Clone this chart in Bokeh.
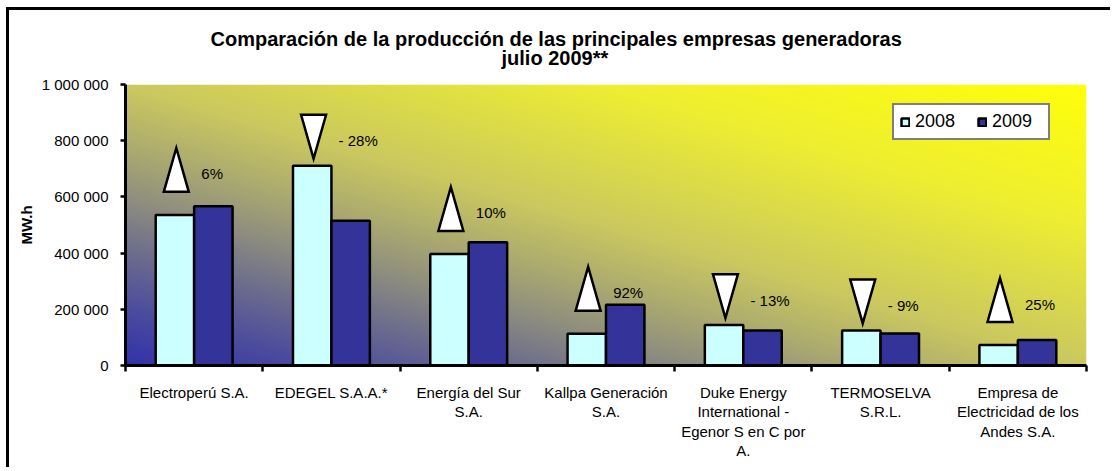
import numpy as np
from bokeh.plotting import figure
from bokeh.models import (Range1d, FixedTicker, Legend, LegendItem, Title,
                          ColumnDataSource)
from bokeh.transform import dodge
from bokeh.core.properties import value
from bokeh.embed import file_html
from bokeh.resources import INLINE

# ---------------- data ----------------
companies = [
    "Electroperú S.A.",
    "EDEGEL S.A.A.*",
    "Energía del Sur\nS.A.",
    "Kallpa Generación\nS.A.",
    "Duke Energy\nInternational -\nEgenor S en C por\nA.",
    "TERMOSELVA\nS.R.L.",
    "Empresa de\nElectricidad de los\nAndes S.A.",
]
prod_2008 = [536000, 711000, 397000, 113000, 144000, 125000, 73000]
prod_2009 = [567000, 515000, 439000, 216000, 125000, 114000, 91000]
change_pct = [6, -28, 10, 92, -13, -9, 25]
series_names = ["2008", "2009"]
y_ticks = [0, 200000, 400000, 600000, 800000, 1000000]
title_line1 = "Comparación de la producción de las principales empresas generadoras"
title_line2 = "julio  2009**"
y_label = "MW.h"

# ---------------- style ----------------
FONT = "Liberation Sans"
C2008 = "#CCFFFF"
C2009 = "#333399"
BAR_W = 0.28
n = len(companies)
centers = [i + 0.5 for i in range(n)]
YMAX = y_ticks[-1]

p = figure(width=1104, height=460, output_backend="svg", toolbar_location=None,
           title=None,
           x_range=Range1d(0, n), y_range=Range1d(0, YMAX),
           min_border_left=116, min_border_right=27,
           min_border_top=74, min_border_bottom=105)
p.styles = {"border-left": "3px solid black", "border-top": "3px solid black",
            "margin-left": "6px", "margin-top": "7px"}
p.outline_line_color = None
p.background_fill_color = "white"
p.border_fill_color = "white"
p.xgrid.visible = False
p.ygrid.visible = False

# ---------------- gradient background of the plot area ----------------
rows, cols = 141, 481
u = np.linspace(0, 1, cols)[None, :]
v = np.linspace(0, 1, rows)[:, None]
t = (u + v) / 2.0
st = [0.0, 0.1, 0.2, 0.3, 0.4, 0.5, 0.75, 1.0]
cr = [50, 76, 108, 143, 175, 203, 238, 255]
cg = [50, 76, 108, 143, 174, 201, 238, 255]
cb = [170, 158, 142, 127, 110, 95, 50, 10]
img = np.empty((rows, cols), dtype=np.uint32)
view = img.view(dtype=np.uint8).reshape((rows, cols, 4))
view[:, :, 0] = np.interp(t, st, cr).astype(np.uint8)
view[:, :, 1] = np.interp(t, st, cg).astype(np.uint8)
view[:, :, 2] = np.interp(t, st, cb).astype(np.uint8)
view[:, :, 3] = 255
p.image_rgba(image=[img], x=0, y=0, dw=n, dh=YMAX)

# ---------------- bars ----------------
src = ColumnDataSource(dict(xc=centers, v08=prod_2008, v09=prod_2009))
r08 = p.vbar(x=dodge("xc", -BAR_W / 2), top="v08", width=BAR_W, source=src,
             fill_color=C2008, line_color="black", line_width=2.5)
r09 = p.vbar(x=dodge("xc", BAR_W / 2), top="v09", width=BAR_W, source=src,
             fill_color=C2009, line_color="black", line_width=2.5)

# ---------------- change arrows + percentages ----------------
TRI_HW = 0.091
TRI_HH = 78000
tri_xs, tri_ys, lab_x, lab_y, lab_t = [], [], [], [], []
for c, v08, pct in zip(centers, prod_2008, change_pct):
    cx = c - 0.13
    if pct >= 0:
        cy = v08 + 160000
        ys = [cy - TRI_HH, cy - TRI_HH, cy + TRI_HH]
        txt = f"{pct}%"
    else:
        cy = v08 + 103000
        ys = [cy + TRI_HH, cy + TRI_HH, cy - TRI_HH]
        txt = f"- {abs(pct)}%"
    tri_xs.append([cx - TRI_HW, cx + TRI_HW, cx])
    tri_ys.append(ys)
    lab_x.append(cx)
    lab_y.append(cy)
    lab_t.append(txt)
p.patches(xs=tri_xs, ys=tri_ys, fill_color="white", line_color="black",
          line_width=2.5, line_join="miter")
p.text(x=lab_x, y=lab_y, text=lab_t, x_offset=25, y_offset=4,
       text_align="left", text_baseline="middle", text_color="black",
       text_font=value(FONT), text_font_size="15px")

# ---------------- axes ----------------
xa = p.xaxis[0]
xa.ticker = FixedTicker(ticks=centers, minor_ticks=list(range(n + 1)))
xa.major_label_overrides = {c: name for c, name in zip(centers, companies)}
xa.major_tick_line_color = None
xa.major_tick_out = 0
xa.major_tick_in = 0
xa.minor_tick_line_color = "black"
xa.minor_tick_line_width = 2.5
xa.minor_tick_out = 6
xa.minor_tick_in = 0
xa.axis_line_color = "black"
xa.axis_line_width = 3
xa.major_label_standoff = 12
xa.major_label_text_font = FONT
xa.major_label_text_font_size = "15px"
xa.major_label_text_color = "black"
xa.major_label_text_line_height = 1.15

ya = p.yaxis[0]
ya.ticker = FixedTicker(ticks=y_ticks)
ya.major_label_overrides = {tk: f"{tk:,}".replace(",", " ") for tk in y_ticks}
ya.major_tick_out = 5
ya.major_tick_in = 0
ya.major_tick_line_width = 2.5
ya.major_tick_line_color = "black"
ya.minor_tick_line_color = None
ya.axis_line_color = "black"
ya.axis_line_width = 3
ya.major_label_standoff = 12
ya.major_label_text_font = FONT
ya.major_label_text_font_size = "15px"
ya.major_label_text_color = "black"
ya.axis_label = y_label
ya.axis_label_standoff = 4
ya.axis_label_text_font = FONT
ya.axis_label_text_font_size = "15px"
ya.axis_label_text_font_style = "bold"
ya.axis_label_text_color = "black"

# ---------------- legend ----------------
legend = Legend(items=[LegendItem(label=series_names[0], renderers=[r08]),
                       LegendItem(label=series_names[1], renderers=[r09])],
                orientation="horizontal", location=(767, 225),
                border_line_color="black", border_line_width=2.5,
                background_fill_color="white", background_fill_alpha=1.0,
                padding=6, spacing=12, label_standoff=5, margin=0,
                glyph_width=10, glyph_height=10, label_width=50,
                label_text_font=FONT, label_text_font_size="18px",
                label_text_color="black")
p.add_layout(legend, "center")

# ---------------- title ----------------
p.add_layout(Title(text=title_line2, align="left", offset=376,
                   text_font=FONT, text_font_size="20px", text_font_style="bold",
                   text_color="black", standoff=31), "above")
p.add_layout(Title(text=title_line1, align="left", offset=85,
                   text_font=FONT, text_font_size="20px", text_font_style="bold",
                   text_color="black", standoff=-41), "above")

open("out.html", "w").write(file_html(p, INLINE))
